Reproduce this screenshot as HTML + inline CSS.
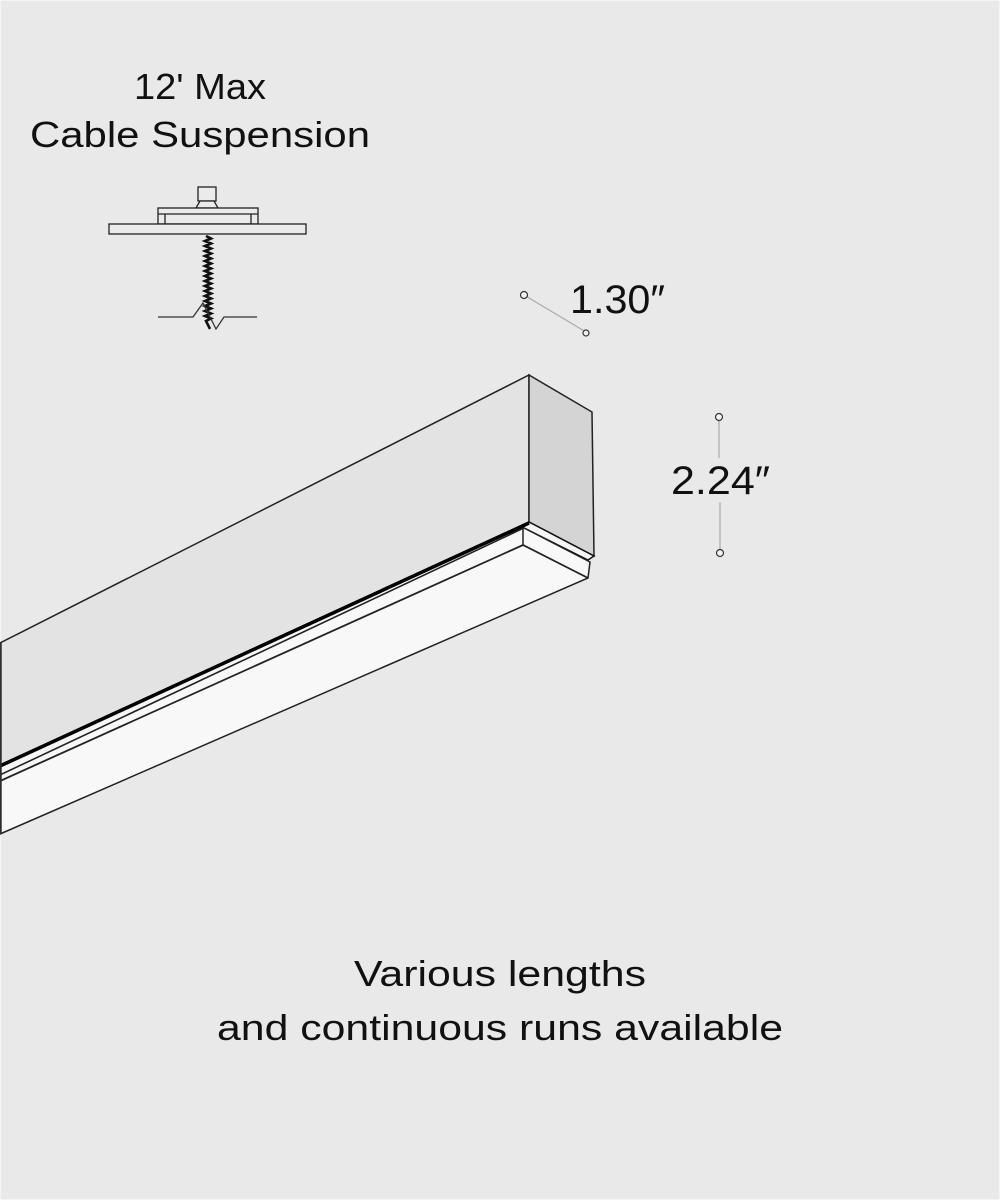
<!DOCTYPE html>
<html><head><style>
html,body{margin:0;padding:0;background:#e9e9e9;}
svg{display:block}
text{font-family:"Liberation Sans",sans-serif;fill:#111;}
</style></head><body>
<svg width="1000" height="1200" viewBox="0 0 1000 1200">
<rect x="0" y="0" width="1000" height="1200" fill="#e9e9e9" stroke="#f4f4f4" stroke-width="2"/>
<text x="134" y="99" font-size="36" textLength="132" lengthAdjust="spacingAndGlyphs">12' Max</text>
<text x="30" y="147" font-size="36" textLength="340" lengthAdjust="spacingAndGlyphs">Cable Suspension</text>
<!-- canopy -->
<g stroke="#222" stroke-width="1.3" fill="#ebebeb">
<rect x="198" y="187" width="18" height="14"/>
<polygon points="196,208 218,208 214,201 200,201"/>
<rect x="158" y="208" width="100" height="16"/>
<line x1="158" y1="214" x2="258" y2="214"/>
<line x1="165" y1="214" x2="165" y2="224"/>
<line x1="251" y1="214" x2="251" y2="224"/>
<rect x="109" y="224" width="197" height="10"/>
</g>
<path d="M206,236 l5,2.5 l-6,2.5 l6,2.5 l-6,2.5 l6,2.5 l-6,2.5 l6,2.5 l-6,2.5 l6,2.5 l-6,2.5 l6,2.5 l-6,2.5 l6,2.5 l-6,2.5 l6,2.5 l-6,2.5 l6,2.5 l-6,2.5 l6,2.5 l-6,2.5 l6,2.5 l-6,2.5 l6,2.5 l-6,2.5 l6,2.5 l-6,2.5 l6,2.5 l-6,2.5 l6,2.5 l-6,2.5 l6,2.5 l-6,2.5 l6,2.5 l-5,2.5 l4,8" fill="none" stroke="#111" stroke-width="2.6"/>
<polyline points="158,317 193,317 203,303 216,329 224,317 257,317" fill="none" stroke="#333" stroke-width="1.3"/>
<!-- fixture -->
<polygon points="0,643 529,375 529,522 0,765" fill="#e3e3e3" stroke="#222" stroke-width="1.5"/>
<polygon points="529,375 592,412 594,556 529,522" fill="#d4d4d4" stroke="#222" stroke-width="1.5"/>
<polygon points="0,765 529,522 594,556 588,560 524,528 0,775" fill="#f6f6f6" stroke="#111" stroke-width="1.5"/>
<line x1="0" y1="766" x2="529" y2="523" stroke="#000" stroke-width="3.5"/>
<polygon points="0,775 524,528 590,562 588,578 0,834" fill="#f8f8f8" stroke="#222" stroke-width="1.5"/>
<polyline points="0,781 523,545 588,578" fill="none" stroke="#222" stroke-width="1.8"/>
<line x1="523" y1="528" x2="523" y2="545" stroke="#222" stroke-width="1.5"/>
<line x1="1" y1="643" x2="1" y2="834" stroke="#333" stroke-width="1.5"/>
<!-- dims -->
<line x1="524" y1="295" x2="586" y2="332" stroke="#aaa" stroke-width="1.2"/>
<circle cx="524" cy="295" r="3.5" fill="#f4f4f4" stroke="#333" stroke-width="1.2"/>
<circle cx="586" cy="333" r="3" fill="#f4f4f4" stroke="#333" stroke-width="1.2"/>
<text x="570" y="313" font-size="40" textLength="95" lengthAdjust="spacingAndGlyphs">1.30″</text>
<line x1="719" y1="417" x2="719" y2="458" stroke="#aaa" stroke-width="1.2"/>
<line x1="720" y1="502" x2="720" y2="552" stroke="#aaa" stroke-width="1.2"/>
<circle cx="719" cy="417" r="3.5" fill="#f4f4f4" stroke="#333" stroke-width="1.2"/>
<circle cx="720" cy="553" r="3.5" fill="#f4f4f4" stroke="#333" stroke-width="1.2"/>
<text x="671" y="494" font-size="40" textLength="99" lengthAdjust="spacingAndGlyphs">2.24″</text>
<text x="354" y="986" font-size="36" textLength="292" lengthAdjust="spacingAndGlyphs">Various lengths</text>
<text x="217" y="1040" font-size="36" textLength="566" lengthAdjust="spacingAndGlyphs">and continuous runs available</text>
</svg>
</body></html>
